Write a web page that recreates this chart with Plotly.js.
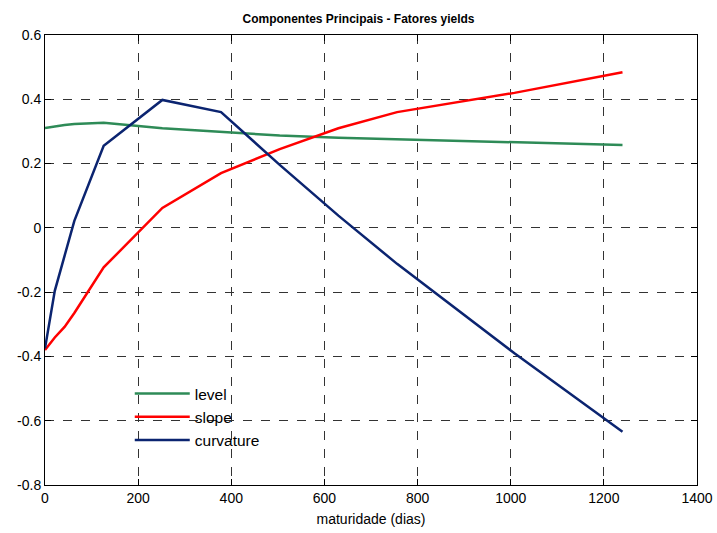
<!DOCTYPE html>
<html>
<head>
<meta charset="utf-8">
<script src="https://cdn.plot.ly/plotly-3.0.1.min.js"></script>
<style>html,body{margin:0;padding:0;background:#fff;}#chart{width:717px;height:533px;}</style>
</head>
<body>
<div id="chart"></div>
<script>
const maturity = [0, 21, 42, 63, 126, 252, 378, 504, 630, 756, 1008, 1240];
const level = [0.311, 0.316, 0.320, 0.323, 0.327, 0.310, 0.298, 0.287, 0.280, 0.275, 0.266, 0.258];
const slope = [-0.380, -0.341, -0.308, -0.265, -0.123, 0.062, 0.170, 0.245, 0.310, 0.360, 0.420, 0.484];
const curvature = [-0.375, -0.196, -0.087, 0.022, 0.255, 0.398, 0.360, 0.196, 0.038, -0.112, -0.390, -0.634];
const seriesNames = ['level', 'slope', 'curvature'];
const seriesColors = ['#2e8b57', '#ff0000', '#0b2470'];
const xTicks = [0, 200, 400, 600, 800, 1000, 1200, 1400];
const yTicks = [-0.8, -0.6, -0.4, -0.2, 0, 0.2, 0.4, 0.6];

const data = [level, slope, curvature].map((v, i) => ({
  x: maturity, y: v, type: 'scatter', mode: 'lines', name: seriesNames[i],
  line: {color: seriesColors[i], width: 2.5}
}));

const axisBase = {
  showline: true, linecolor: '#000', linewidth: 1, mirror: 'ticks',
  ticks: 'inside', ticklen: 6, tickcolor: '#000',
  showgrid: true, gridcolor: '#333', griddash: 'dash', gridwidth: 1,
  zeroline: false, tickfont: {family: 'Liberation Sans, Arial, sans-serif', size: 14, color: '#000'}
};

const layout = {
  width: 717, height: 533,
  margin: {l: 45, r: 20, t: 35, b: 48},
  paper_bgcolor: '#fff', plot_bgcolor: '#fff',
  title: {text: '<b>Componentes Principais - Fatores yields</b>', x: 0.5, xanchor: 'center', y: 0.965, yanchor: 'middle',
          font: {family: 'Liberation Sans, Arial, sans-serif', size: 12, color: '#000'}},
  xaxis: Object.assign({}, axisBase, {range: [0, 1400], tickvals: xTicks, ticktext: xTicks.map(String),
    title: {text: 'maturidade (dias)', standoff: 9, font: {family: 'Liberation Sans, Arial, sans-serif', size: 14, color: '#000'}}}),
  yaxis: Object.assign({}, axisBase, {range: [-0.8, 0.6], tickvals: yTicks, ticktext: yTicks.map(v => v === 0 ? '0' : v.toFixed(1))}),
  showlegend: true,
  legend: {x: 0.13, y: 0.24, xanchor: 'left', yanchor: 'top', bgcolor: 'rgba(255,255,255,0)',
           font: {family: 'Liberation Sans, Arial, sans-serif', size: 15.5, color: '#000'}, tracegroupgap: 0, itemwidth: 55}
};

Plotly.newPlot('chart', data, layout, {displayModeBar: false, staticPlot: true});
</script>
</body>
</html>
